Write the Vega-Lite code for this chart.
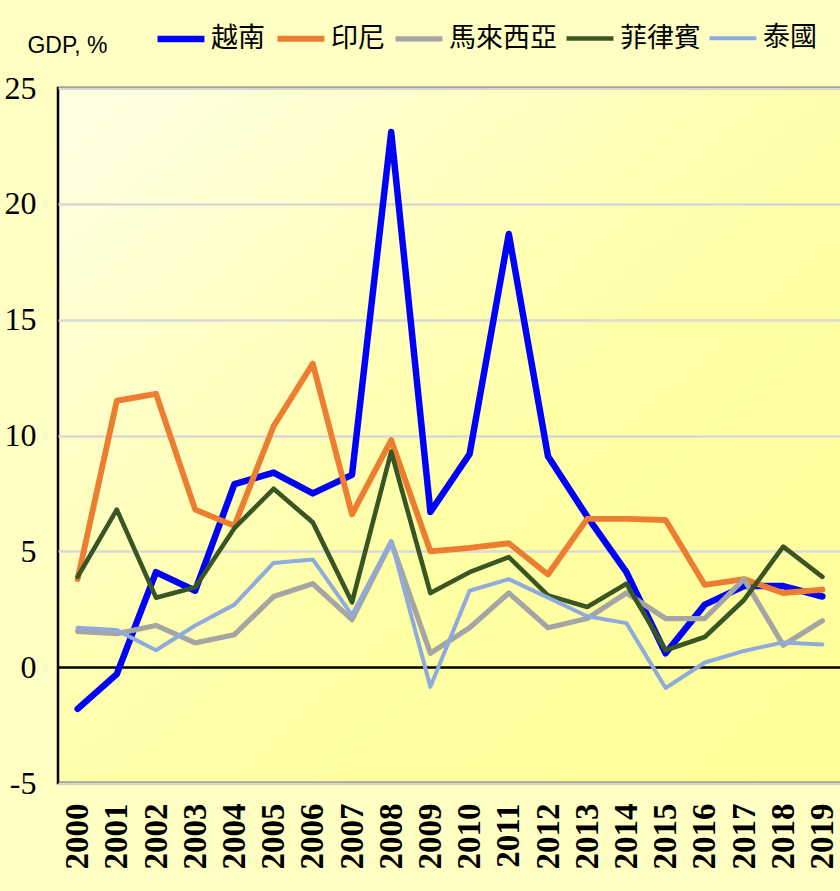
{
  "$schema": "https://vega.github.io/schema/vega-lite/v6.json",
  "autosize": {"type": "none"},
  "width": 784,
  "height": 695,
  "padding": {"left": 58, "top": 88, "right": 0, "bottom": 108},
  "background": "#FFFFC4",
  "config": {
    "view": {
      "stroke": "black",
      "strokeWidth": 2.5,
      "fill": {"gradient": "linear", "x1": 0, "y1": 0, "x2": 1, "y2": 1,
        "stops": [{"offset": 0, "color": "#FFFFE6"}, {"offset": 0.55, "color": "#FFFFA6"}, {"offset": 1, "color": "#FFFF99"}]}
    },
    "legend": {"padding": 0}
  },
  "data": {
    "values": [
      {"year": "2000", "country": "越南", "g": -1.8},
      {"year": "2001", "country": "越南", "g": -0.3},
      {"year": "2002", "country": "越南", "g": 4.1},
      {"year": "2003", "country": "越南", "g": 3.3},
      {"year": "2004", "country": "越南", "g": 7.9},
      {"year": "2005", "country": "越南", "g": 8.4},
      {"year": "2006", "country": "越南", "g": 7.5},
      {"year": "2007", "country": "越南", "g": 8.3},
      {"year": "2008", "country": "越南", "g": 23.1},
      {"year": "2009", "country": "越南", "g": 6.7},
      {"year": "2010", "country": "越南", "g": 9.2},
      {"year": "2011", "country": "越南", "g": 18.7},
      {"year": "2012", "country": "越南", "g": 9.1},
      {"year": "2013", "country": "越南", "g": 6.5},
      {"year": "2014", "country": "越南", "g": 4.1},
      {"year": "2015", "country": "越南", "g": 0.6},
      {"year": "2016", "country": "越南", "g": 2.7},
      {"year": "2017", "country": "越南", "g": 3.5},
      {"year": "2018", "country": "越南", "g": 3.5},
      {"year": "2019", "country": "越南", "g": 3.05},
      {"year": "2000", "country": "印尼", "g": 3.8},
      {"year": "2001", "country": "印尼", "g": 11.5},
      {"year": "2002", "country": "印尼", "g": 11.8},
      {"year": "2003", "country": "印尼", "g": 6.8},
      {"year": "2004", "country": "印尼", "g": 6.1},
      {"year": "2005", "country": "印尼", "g": 10.4},
      {"year": "2006", "country": "印尼", "g": 13.1},
      {"year": "2007", "country": "印尼", "g": 6.6},
      {"year": "2008", "country": "印尼", "g": 9.8},
      {"year": "2009", "country": "印尼", "g": 5.0},
      {"year": "2010", "country": "印尼", "g": 5.15},
      {"year": "2011", "country": "印尼", "g": 5.35},
      {"year": "2012", "country": "印尼", "g": 4.0},
      {"year": "2013", "country": "印尼", "g": 6.4},
      {"year": "2014", "country": "印尼", "g": 6.4},
      {"year": "2015", "country": "印尼", "g": 6.35},
      {"year": "2016", "country": "印尼", "g": 3.55},
      {"year": "2017", "country": "印尼", "g": 3.8},
      {"year": "2018", "country": "印尼", "g": 3.2},
      {"year": "2019", "country": "印尼", "g": 3.35},
      {"year": "2000", "country": "馬來西亞", "g": 1.55},
      {"year": "2001", "country": "馬來西亞", "g": 1.45},
      {"year": "2002", "country": "馬來西亞", "g": 1.8},
      {"year": "2003", "country": "馬來西亞", "g": 1.05},
      {"year": "2004", "country": "馬來西亞", "g": 1.4},
      {"year": "2005", "country": "馬來西亞", "g": 3.05},
      {"year": "2006", "country": "馬來西亞", "g": 3.6},
      {"year": "2007", "country": "馬來西亞", "g": 2.05},
      {"year": "2008", "country": "馬來西亞", "g": 5.4},
      {"year": "2009", "country": "馬來西亞", "g": 0.6},
      {"year": "2010", "country": "馬來西亞", "g": 1.7},
      {"year": "2011", "country": "馬來西亞", "g": 3.2},
      {"year": "2012", "country": "馬來西亞", "g": 1.7},
      {"year": "2013", "country": "馬來西亞", "g": 2.1},
      {"year": "2014", "country": "馬來西亞", "g": 3.2},
      {"year": "2015", "country": "馬來西亞", "g": 2.1},
      {"year": "2016", "country": "馬來西亞", "g": 2.1},
      {"year": "2017", "country": "馬來西亞", "g": 3.8},
      {"year": "2018", "country": "馬來西亞", "g": 0.95},
      {"year": "2019", "country": "馬來西亞", "g": 2.0},
      {"year": "2000", "country": "菲律賓", "g": 3.9},
      {"year": "2001", "country": "菲律賓", "g": 6.8},
      {"year": "2002", "country": "菲律賓", "g": 3.0},
      {"year": "2003", "country": "菲律賓", "g": 3.45},
      {"year": "2004", "country": "菲律賓", "g": 6.0},
      {"year": "2005", "country": "菲律賓", "g": 7.7},
      {"year": "2006", "country": "菲律賓", "g": 6.25},
      {"year": "2007", "country": "菲律賓", "g": 2.8},
      {"year": "2008", "country": "菲律賓", "g": 9.3},
      {"year": "2009", "country": "菲律賓", "g": 3.2},
      {"year": "2010", "country": "菲律賓", "g": 4.1},
      {"year": "2011", "country": "菲律賓", "g": 4.75},
      {"year": "2012", "country": "菲律賓", "g": 3.1},
      {"year": "2013", "country": "菲律賓", "g": 2.6},
      {"year": "2014", "country": "菲律賓", "g": 3.6},
      {"year": "2015", "country": "菲律賓", "g": 0.73},
      {"year": "2016", "country": "菲律賓", "g": 1.3},
      {"year": "2017", "country": "菲律賓", "g": 2.9},
      {"year": "2018", "country": "菲律賓", "g": 5.2},
      {"year": "2019", "country": "菲律賓", "g": 3.9},
      {"year": "2000", "country": "泰國", "g": 1.7},
      {"year": "2001", "country": "泰國", "g": 1.6},
      {"year": "2002", "country": "泰國", "g": 0.73},
      {"year": "2003", "country": "泰國", "g": 1.8},
      {"year": "2004", "country": "泰國", "g": 2.7},
      {"year": "2005", "country": "泰國", "g": 4.5},
      {"year": "2006", "country": "泰國", "g": 4.65},
      {"year": "2007", "country": "泰國", "g": 2.25},
      {"year": "2008", "country": "泰國", "g": 5.45},
      {"year": "2009", "country": "泰國", "g": -0.85},
      {"year": "2010", "country": "泰國", "g": 3.3},
      {"year": "2011", "country": "泰國", "g": 3.8},
      {"year": "2012", "country": "泰國", "g": 3.0},
      {"year": "2013", "country": "泰國", "g": 2.2},
      {"year": "2014", "country": "泰國", "g": 1.9},
      {"year": "2015", "country": "泰國", "g": -0.9},
      {"year": "2016", "country": "泰國", "g": 0.2},
      {"year": "2017", "country": "泰國", "g": 0.7},
      {"year": "2018", "country": "泰國", "g": 1.07},
      {"year": "2019", "country": "泰國", "g": 0.98}
    ]
  },
  "mark": {"type": "line", "strokeJoin": "round", "strokeCap": "round"},
  "encoding": {
    "x": {
      "field": "year", "type": "ordinal",
      "scale": {"type": "point", "padding": 0.5},
      "axis": {
        "title": null, "labelAngle": -90, "labelFont": "Liberation Serif", "labelFontSize": 33,
        "labelFontWeight": "bold", "labelColor": "black", "labelPadding": 20,
        "ticks": false, "domain": false, "grid": false
      }
    },
    "y": {
      "field": "g", "type": "quantitative",
      "scale": {"domain": [-5, 25], "nice": false, "zero": false},
      "axis": {
        "values": [-5, 0, 5, 10, 15, 20, 25],
        "labelExpr": "datum.value + ''",
        "title": "GDP, %", "titleAngle": 0, "titleX": 9, "titleY": -43,
        "titleAlign": "center", "titleBaseline": "middle",
        "titleFont": "Liberation Sans", "titleFontSize": 23,
        "titleFontWeight": "normal", "titleColor": "black",
        "labelFont": "Liberation Serif", "labelFontSize": 32, "labelColor": "black",
        "labelPadding": 22, "ticks": false, "domain": false,
        "grid": true,
        "gridColor": {"condition": {"test": "datum.value === 0", "value": "black"}, "value": "#D9D9D9"},
        "gridWidth": 2.5
      }
    },
    "color": {
      "field": "country", "type": "nominal",
      "scale": {
        "domain": ["越南", "印尼", "馬來西亞", "菲律賓", "泰國"],
        "range": ["#0000FF", "#ED7D31", "#A5A5A5", "#375623", "#8FAADC"]
      },
      "legend": {
        "title": null, "orient": "none", "legendX": 96, "legendY": -76,
        "direction": "horizontal", "columns": 5, "columnPadding": 0,
        "symbolType": "stroke", "symbolSize": 2200, "symbolStrokeWidth": 7,
        "labelFont": "Noto Sans CJK TC", "labelFontSize": 27, "labelColor": "black",
        "labelOffset": 3, "symbolOpacity": 1
      }
    },
    "strokeWidth": {
      "field": "country", "type": "nominal",
      "scale": {"domain": ["越南", "印尼", "馬來西亞", "菲律賓", "泰國"], "range": [6.5, 4, 4.5, 4, 4.5]},
      "legend": null
    }
  }
}
